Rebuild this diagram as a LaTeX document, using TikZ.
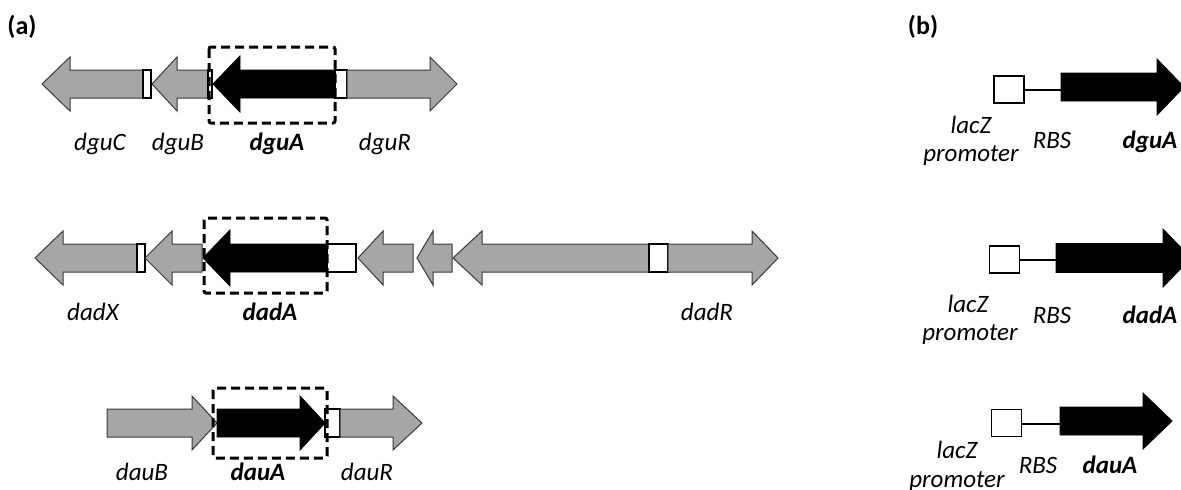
\documentclass[tikz,border=0pt]{standalone}
\usepackage{fontspec}
\setmainfont{Carlito}
\definecolor{genegrey}{HTML}{A6A6A6}
\definecolor{edgegrey}{HTML}{3A3A3A}
\tikzset{
  gene/.style={draw=edgegrey, line width=1pt, fill=genegrey, line join=miter},
  target/.style={draw=black, line width=0.9pt, fill=black, line join=miter},
  spacer/.style={draw=black, line width=1.8pt, fill=white},
  dashbox/.style={draw=black, line width=3pt, dash pattern=on 9pt off 5pt, rounded corners=2pt},
  lbl/.style={font=\fontsize{25}{30}\selectfont\itshape, anchor=base, inner sep=0pt},
  lblb/.style={font=\fontsize{25}{30}\selectfont\bfseries\itshape, anchor=base, inner sep=0pt},
  panel/.style={font=\fontsize{26}{30}\selectfont\bfseries, anchor=base, inner sep=0pt},
  promo/.style={draw=black, line width=1.8pt, fill=white, minimum width=30pt, minimum height=27pt, inner sep=0pt},
  link/.style={draw=black, line width=2pt},
}
% #1 start x, #2 head base x, #3 tip x, #4 centre y, #5 shaft half height, #6 head half height, #7 style
\newcommand\genearrow[7]{%
  \path[#7] (#1,#4-#5) -- (#2,#4-#5) -- (#2,#4-#6) -- (#3,#4) -- (#2,#4+#6)
    -- (#2,#4+#5) -- (#1,#4+#5) -- cycle;}
% #1 left x, #2 right x, #3 centre y
\newcommand\spacerbox[3]{\path[spacer] (#1,#3-14) rectangle (#2,#3+14);}
\begin{document}
\begin{tikzpicture}[x=1pt, y=-1pt]
\useasboundingbox (0,0) rectangle (1181,490);

% ---------- (a) ----------
\node[panel] (pa) at (22,34) {(a)};

% dgu cluster
\genearrow{143}{70}{42}{84}{14}{27}{gene}
\spacerbox{143}{151}{84}
\genearrow{208}{177}{152}{84}{14}{27}{gene}
\spacerbox{208}{212}{84}
\genearrow{335}{240}{213}{84}{14}{28}{target}
\spacerbox{335}{347}{84}
\genearrow{347}{430}{457}{84}{14}{27}{gene}
\draw[dashbox] (209,47) rectangle (335,123);
\node[lbl]  (dguC) at (100,150) {dguC};
\node[lbl]  (dguB) at (178,150) {dguB};
\node[lblb] (dguA) at (277,150) {dguA};
\node[lbl]  (dguR) at (385,150) {dguR};

% dad cluster
\genearrow{137}{63}{35}{258}{14}{27}{gene}
\spacerbox{137}{145}{258}
\genearrow{202}{172}{145}{258}{14}{27}{gene}
\genearrow{327}{230}{203}{258}{14}{28}{target}
\spacerbox{327}{356}{258}
\genearrow{413}{383}{358}{258}{14}{27}{gene}
\genearrow{452}{433}{417}{258}{14}{27}{gene}
\genearrow{649}{482}{453}{258}{14}{27}{gene}
\spacerbox{649}{668}{258}
\genearrow{668}{752}{778}{258}{14}{27}{gene}
\draw[dashbox] (204,218) rectangle (327,293);
\node[lbl]  (dadX) at (93,320) {dadX};
\node[lblb] (dadA) at (270,320) {dadA};
\node[lbl]  (dadR) at (707,320) {dadR};

% dau cluster
\genearrow{107}{192}{217}{423}{14}{27}{gene}
\genearrow{217}{300}{325}{423}{14}{27}{target}
\spacerbox{325}{340}{423}
\genearrow{340}{393}{422}{423}{14}{27}{gene}
\draw[dashbox] (213,388) rectangle (327,458);
\node[lbl]  (dauB) at (142,480) {dauB};
\node[lblb] (dauA) at (258,480) {dauA};
\node[lbl]  (dauR) at (367,480) {dauR};

% ---------- (b) ----------
\node[panel] (pb) at (923,34) {(b)};

% dguA construct
\node[promo] (p1) at (1009,89.5) {};
\coordinate (s1) at (1061,89.5);
\draw[link] (p1.east) -- (s1);
\genearrow{1061}{1157}{1184}{87}{14}{28}{target}
\node[lbl]  (lz1) at (971,133) {lacZ};
\node[lbl]  (pr1) at (971,161) {promoter};
\node[lbl]  (rb1) at (1052,148) {RBS};
\node[lblb] (ga1) at (1150,148) {dguA};

% dadA construct
\node[promo] (p2) at (1004.5,259.5) {};
\coordinate (s2) at (1056,259.5);
\draw[link] (p2.east) -- (s2);
\genearrow{1056}{1163}{1191}{258}{14.5}{29}{target}
\node[lbl]  (lz2) at (968,312) {lacZ};
\node[lbl]  (pr2) at (970,340) {promoter};
\node[lbl]  (rb2) at (1052,323) {RBS};
\node[lblb] (ga2) at (1150,323) {dadA};

% dauA construct
\node[promo] (p3) at (1006.5,423) {};
\coordinate (s3) at (1060,424);
\draw[link] (p3.east |- s3) -- (s3);
\genearrow{1060}{1143}{1172}{421}{14}{28}{target}
\node[lbl]  (lz3) at (957,458) {lacZ};
\node[lbl]  (pr3) at (957,487) {promoter};
\node[lbl]  (rb3) at (1038,473) {RBS};
\node[lblb] (ga3) at (1110,473) {dauA};
\end{tikzpicture}
\end{document}
